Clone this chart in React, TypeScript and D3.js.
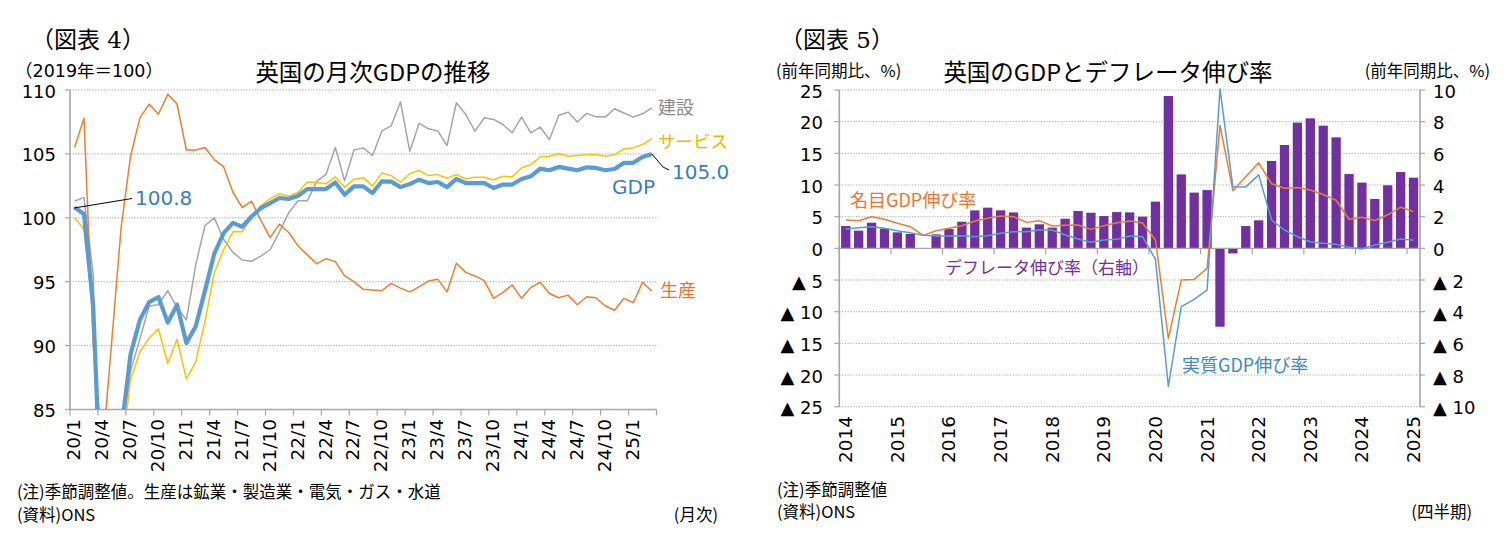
import React from "react";
import * as d3 from "d3";

// ---------- Left chart (monthly, 2020/1 - 2025/3, 2019 = 100) ----------
const monthTickLabels = ["20/1","20/4","20/7","20/10","21/1","21/4","21/7","21/10","22/1","22/4","22/7","22/10","23/1","23/4","23/7","23/10","24/1","24/4","24/7","24/10","25/1"];
const leftYTicks = [85, 90, 95, 100, 105, 110];

const gdp = [100.8,100.3,93.0,74.5,77.5,83.3,89.3,92.0,93.4,93.8,91.8,93.2,90.2,91.5,94.3,97.2,98.8,99.6,99.3,100.1,
  100.75,101.15,101.55,101.47,101.73,102.25,102.25,102.25,102.77,101.8,102.46,102.46,101.94,102.85,102.83,102.4,102.64,102.98,102.72,102.8,
  102.4,103.05,102.72,102.72,102.72,102.33,102.6,102.6,103.04,103.25,103.85,103.72,103.98,103.85,103.72,103.95,103.9,103.72,103.82,104.3,
  104.3,104.76,105.0];
const services = [100.0,99.1,92.5,74.0,76.5,81.2,87.3,89.5,90.6,91.3,88.6,90.5,87.4,88.7,91.9,95.7,97.5,98.9,98.9,100.0,
  100.94,101.5,101.86,101.68,102.0,102.8,102.77,102.67,103.2,102.4,103.0,103.14,102.5,103.5,103.3,102.8,103.45,103.7,103.3,103.38,
  103.1,103.38,103.06,103.17,103.17,102.98,103.25,103.2,103.9,104.16,104.76,104.82,105.03,104.82,104.87,104.95,104.95,104.82,104.95,105.4,
  105.47,105.73,106.18];
const construction = [101.3,101.6,95.5,60.0,75.0,82.6,88.0,90.5,93.1,93.2,94.3,93.0,92.0,96.3,99.4,100.0,98.3,97.3,96.7,96.6,
  97.0,97.5,98.9,100.4,101.33,101.33,102.85,103.4,105.5,102.9,105.3,105.47,104.87,106.8,107.2,109.06,105.2,107.4,106.96,106.8,
  105.65,109.0,108.1,106.78,107.83,107.7,107.3,106.65,107.88,106.65,107.1,106.13,108.0,108.27,107.5,108.17,107.9,107.88,108.53,108.2,
  107.88,108.14,108.6];
const production = [105.5,107.8,90.0,81.8,90.5,99.3,104.8,107.8,108.9,108.1,109.66,108.9,105.3,105.3,105.5,104.55,104.0,102.0,100.8,101.3,
  99.8,98.45,99.5,98.85,97.8,97.1,96.4,96.8,96.57,95.45,95.0,94.4,94.35,94.3,94.87,94.5,94.2,94.6,95.05,95.2,
  94.2,96.44,95.73,95.45,95.08,93.7,94.16,94.74,93.7,94.55,94.95,94.08,93.74,93.95,93.2,93.82,93.74,93.1,92.77,93.7,
  93.35,94.95,94.27];

// ---------- Right chart (quarterly, 2014Q1 - 2025Q1, yoy %) ----------
const yearLabels = ["2014","2015","2016","2017","2018","2019","2020","2021","2022","2023","2024","2025"];
const leftAxisTicks = [-25, -20, -15, -10, -5, 0, 5, 10, 15, 20, 25];
const rightAxisTicks = [-10, -8, -6, -4, -2, 0, 2, 4, 6, 8, 10];

const deflator = [1.41,1.12,1.62,1.24, 1.01,0.91,0.0,0.88, 1.22,1.68,2.4,2.57, 2.4,2.27,1.31,1.52,
  1.31,1.87,2.36,2.25, 2.04,2.29,2.27,2.0, 2.95,9.62,4.67,3.52, 3.68,-4.95,-0.32,1.41,
  1.77,5.52,6.53,7.94, 8.21,7.75,7.01,4.69, 4.15,3.12,3.98,4.82, 4.46];
const nominalGdp = [4.47,4.37,5.0,4.58, 3.95,3.42,2.05,2.79, 3.16,3.58,4.32,4.74, 5.1,5.0,4.1,4.37,
  3.53,3.63,3.68,3.0, 3.58,4.05,4.3,4.0, 1.32,-14.2,-5.0,-4.9, -3.16,19.4,9.1,11.3,
  13.5,10.2,9.5,9.6, 9.2,8.5,7.6,4.6, 4.9,4.4,5.3,6.5, 5.8];
const realGdp = [3.05,3.26,3.42,3.16, 2.79,2.47,2.05,1.95, 1.95,2.0,1.84,2.0, 2.37,2.63,2.63,2.89,
  2.89,2.1,1.47,0.95, 1.32,1.42,1.95,1.84, -1.74,-21.8,-9.2,-8.05, -6.6,25.2,9.7,9.7,
  11.6,4.47,2.9,1.84, 1.05,0.79,0.63,0.16, -0.1,0.53,0.95,1.47, 1.26];

const JP = "'Noto Sans CJK JP', 'Noto Sans', sans-serif";
const NUM = "'DejaVu Sans', 'Noto Sans CJK JP', sans-serif";
const SERIF = "'DejaVu Serif', 'Noto Sans CJK JP', serif";
const GRID = "#a6a6a6";
const AXIS = "#a6a6a6";

function LeftChart() {
  const x0 = 70, x1 = 656.5, yTop = 90, yBot = 409.5;
  const n = gdp.length;
  const x = d3.scaleBand<number>().domain(d3.range(n)).range([x0, x1]).padding(0);
  const cx = (i: number) => (x(i) as number) + x.bandwidth() / 2;
  const y = d3.scaleLinear().domain([85, 110]).range([yBot, yTop]);
  const line = d3.line<number>().x((_, i) => cx(i)).y((d) => y(d));
  const tickIdx = d3.range(0, n + 1, 3);
  return (
    <g>
      <defs>
        <clipPath id="lclip">
          <rect x={x0} y={yTop - 10} width={x1 - x0 + 10} height={yBot - yTop + 10} />
        </clipPath>
      </defs>
      <text x={31} y={40} fontFamily={SERIF} fontSize={23} dominantBaseline="central">（図表 4）</text>
      <text x={15} y={71} fontFamily={NUM} fontSize={17.5} dominantBaseline="central">（2019年＝100）</text>
      <text x={373} y={71} fontFamily={JP} fontSize={23.5} textAnchor="middle" dominantBaseline="central">英国の月次GDPの推移</text>
      {leftYTicks.filter((t) => t !== 85).map((t) => (
        <line key={t} x1={x0} x2={x1} y1={y(t)} y2={y(t)} stroke={GRID} strokeWidth={1} strokeDasharray="1.2 1.6" />
      ))}
      {leftYTicks.map((t) => (
        <g key={"yl" + t}>
          <line x1={x0 - 5} x2={x0} y1={y(t)} y2={y(t)} stroke={AXIS} strokeWidth={1.2} />
          <text x={56} y={y(t) + 1} fontFamily={NUM} fontSize={18} textAnchor="end" dominantBaseline="central">{t}</text>
        </g>
      ))}
      <line x1={x0} x2={x0} y1={yTop} y2={yBot} stroke={AXIS} strokeWidth={1.6} />
      <line x1={x0} x2={x1} y1={yBot} y2={yBot} stroke={AXIS} strokeWidth={1.4} />
      {tickIdx.map((i) => {
        const xx = x0 + i * x.step();
        return <line key={"xt" + i} x1={xx} x2={xx} y1={yBot} y2={yBot + 6} stroke={AXIS} strokeWidth={1.2} />;
      })}
      {monthTickLabels.map((lab, k) => (
        <text key={lab} transform={`translate(${cx(k * 3) - 1},${419}) rotate(-90)`} fontFamily={NUM} fontSize={18.5}
          textAnchor="end" dominantBaseline="central">{lab}</text>
      ))}
      <g clipPath="url(#lclip)" fill="none" strokeLinejoin="round">
        <path d={line(construction) as string} stroke="#a5a5a5" strokeWidth={1.5} />
        <path d={line(production) as string} stroke="#ed7d31" strokeWidth={1.5} />
        <path d={line(services) as string} stroke="#ffc000" strokeWidth={1.5} />
        <path d={line(gdp) as string} stroke="#5b9bd5" strokeWidth={4.2} />
      </g>
      <line x1={cx(0) - 1} y1={y(gdp[0]) + 0.5} x2={132} y2={198.5} stroke="#000" strokeWidth={1} />
      <text x={135} y={198} fontFamily={NUM} fontSize={20} fill="#3b7dc0" dominantBaseline="central">{gdp[0].toFixed(1)}</text>
      <polyline points={`${cx(n - 1)},${y(gdp[n - 1])} 663,167 669,170`} fill="none" stroke="#000" strokeWidth={1} />
      <text x={672} y={172} fontFamily={NUM} fontSize={20} fill="#3b7dc0" dominantBaseline="central">{gdp[n - 1].toFixed(1)}</text>
      <text x={612} y={187} fontFamily={NUM} fontSize={20} fill="#3b7dc0" dominantBaseline="central">GDP</text>
      <text x={658} y={106} fontFamily={JP} fontSize={18} fill="#8c8c8c" dominantBaseline="central">建設</text>
      <text x={658} y={140} fontFamily={JP} fontSize={17.5} fill="#f2b600" dominantBaseline="central">サービス</text>
      <text x={660} y={289} fontFamily={JP} fontSize={18} fill="#e8762d" dominantBaseline="central">生産</text>
      <text x={17} y={491} fontFamily={JP} fontSize={16.5} dominantBaseline="central">(注)季節調整値。生産は鉱業・製造業・電気・ガス・水道</text>
      <text x={17} y={514} fontFamily={JP} fontSize={16.5} dominantBaseline="central">(資料)ONS</text>
      <text x={718} y={514} fontFamily={JP} fontSize={16.5} textAnchor="end" dominantBaseline="central">(月次)</text>
    </g>
  );
}

function RightChart() {
  const x0 = 839.3, x1 = 1420, yTop = 90, yBot = 406.7;
  const n = deflator.length;
  const x = d3.scaleBand<number>().domain(d3.range(n)).range([x0, x1]).paddingInner(0.28).paddingOuter(0.14);
  const cx = (i: number) => (x(i) as number) + x.bandwidth() / 2;
  const yL = d3.scaleLinear().domain([-25, 25]).range([yBot, yTop]);
  const yR = d3.scaleLinear().domain([-10, 10]).range([yBot, yTop]);
  const lineL = d3.line<number>().x((_, i) => cx(i)).y((d) => yL(d));
  const zero = yL(0);
  const step = x.step();
  const fmtL = (t: number) => (t < 0 ? `▲ ${-t}` : `${t}`);
  return (
    <g>
      <text x={780} y={40} fontFamily={SERIF} fontSize={23} dominantBaseline="central">（図表 5）</text>
      <text x={776} y={70} fontFamily={JP} fontSize={16.5} dominantBaseline="central">(前年同期比、%)</text>
      <text x={1490} y={70} fontFamily={JP} fontSize={16.5} textAnchor="end" dominantBaseline="central">(前年同期比、%)</text>
      <text x={1108} y={71} fontFamily={JP} fontSize={23.5} textAnchor="middle" dominantBaseline="central">英国のGDPとデフレータ伸び率</text>
      {leftAxisTicks.filter((t) => t !== 0).map((t) => (
        <line key={"g" + t} x1={x0} x2={x1} y1={yL(t)} y2={yL(t)} stroke={GRID} strokeWidth={1} strokeDasharray="1.2 1.6" />
      ))}
      {leftAxisTicks.map((t) => (
        <g key={"l" + t}>
          <line x1={x0 - 5} x2={x0} y1={yL(t)} y2={yL(t)} stroke={AXIS} strokeWidth={1.2} />
          <text x={823} y={yL(t) + 1} fontFamily={NUM} fontSize={18} textAnchor="end" dominantBaseline="central">{fmtL(t)}</text>
        </g>
      ))}
      {rightAxisTicks.map((t) => (
        <g key={"r" + t}>
          <line x1={x1} x2={x1 + 5} y1={yR(t)} y2={yR(t)} stroke={AXIS} strokeWidth={1.2} />
          <text x={1433} y={yR(t) + 1} fontFamily={NUM} fontSize={18} dominantBaseline="central">{fmtL(t)}</text>
        </g>
      ))}
      {deflator.map((v, i) => (
        <rect key={"b" + i} x={x(i)} width={x.bandwidth()} y={Math.min(yR(v), yR(0))} height={Math.abs(yR(v) - yR(0))} fill="#7030a0" />
      ))}
      <line x1={x0} x2={x0} y1={yTop} y2={yBot} stroke={AXIS} strokeWidth={1.6} />
      <line x1={x1} x2={x1} y1={yTop} y2={yBot} stroke={AXIS} strokeWidth={1.6} />
      <line x1={x0} x2={x1} y1={zero} y2={zero} stroke={AXIS} strokeWidth={1.4} />
      {d3.range(0, n + 1, 4).map((i) => (
        <line key={"xt" + i} x1={x0 + i * step} x2={x0 + i * step} y1={zero} y2={zero + 6} stroke={AXIS} strokeWidth={1.2} />
      ))}
      <g fill="none" strokeLinejoin="round">
        <path d={lineL(nominalGdp) as string} stroke="#ed7d31" strokeWidth={1.5} />
        <path d={lineL(realGdp) as string} stroke="#5b9bd5" strokeWidth={1.5} />
      </g>
      {yearLabels.map((lab, k) => (
        <text key={lab} transform={`translate(${cx(k * 4)},${416}) rotate(-90)`} fontFamily={NUM} fontSize={18.5}
          textAnchor="end" dominantBaseline="central">{lab}</text>
      ))}
      <text x={850} y={199} fontFamily={JP} fontSize={18} fill="#e8762d" dominantBaseline="central">名目GDP伸び率</text>
      <text x={945} y={266} fontFamily={JP} fontSize={17} fill="#7030a0" dominantBaseline="central">デフレータ伸び率（右軸）</text>
      <text x={1182} y={364} fontFamily={JP} fontSize={18} fill="#3b86c8" dominantBaseline="central">実質GDP伸び率</text>
      <text x={777} y={489} fontFamily={JP} fontSize={16.5} dominantBaseline="central">(注)季節調整値</text>
      <text x={777} y={511} fontFamily={JP} fontSize={16.5} dominantBaseline="central">(資料)ONS</text>
      <text x={1472} y={511} fontFamily={JP} fontSize={16.5} textAnchor="end" dominantBaseline="central">(四半期)</text>
    </g>
  );
}

export default function App() {
  return (
    <svg width={1506} height={545} viewBox="0 0 1506 545"
      style={{ position: "absolute", left: 0, top: 0, background: "#fff", display: "block" }}>
      <rect x={0} y={0} width={1506} height={545} fill="#fff" />
      <LeftChart />
      <RightChart />
    </svg>
  );
}
